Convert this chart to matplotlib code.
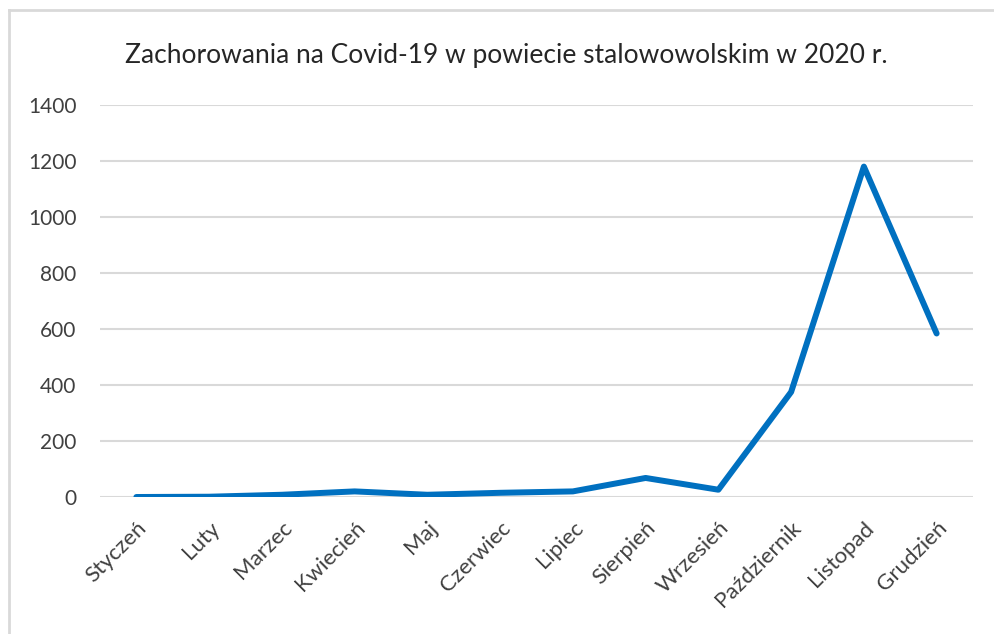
import matplotlib
matplotlib.use("Agg")
from matplotlib import pyplot as plt
from matplotlib.lines import Line2D

plt.rcParams['font.family'] = ['Lato', 'DejaVu Sans']

miesiace = ["Styczeń", "Luty", "Marzec", "Kwiecień", "Maj", "Czerwiec",
            "Lipiec", "Sierpień", "Wrzesień", "Październik", "Listopad", "Grudzień"]
zachorowania = [0, 1, 8, 20, 8, 15, 20, 68, 26, 375, 1180, 584]
y_ticks = [0, 200, 400, 600, 800, 1000, 1200, 1400]
tytul = "Zachorowania na Covid-19 w powiecie stalowowolskim w 2020 r."

W, H = 994, 634
fig = plt.figure(figsize=(W / 100, H / 100), dpi=100)
ax = fig.add_axes([100 / W, 1 - 497 / H, 873 / W, 392 / H])

x = list(range(len(miesiace)))
ax.plot(x, zachorowania, color="#0070C0", lw=4.3, solid_capstyle="round",
        solid_joinstyle="round", zorder=3)

ax.set_xlim(-0.5, len(miesiace) - 0.5)
ax.set_ylim(0, 1400)
ax.set_yticks(y_ticks)
ax.set_yticklabels([str(v) for v in y_ticks], fontsize=15, color="#404040")
ax.set_xticks(x)
ax.set_xticklabels(miesiace, fontsize=16, color="#404040", rotation=45,
                   ha="right", va="top", rotation_mode="anchor")
ax.tick_params(axis="both", length=0)
ax.tick_params(axis="y", pad=17)
ax.tick_params(axis="x", pad=15)
ax.grid(axis="y", color="#D9D9D9", lw=1.5)
ax.set_axisbelow(True)
for s in ax.spines.values():
    s.set_visible(False)

fig.text(506 / W, 1 - 55 / H, tytul, fontsize=19, color="#262626",
         ha="center", va="center")

# ramka wykresu (przycięta z prawej i od dołu)
fig.add_artist(Line2D([9 / W, 9 / W], [1 - 10 / H, 0], color="#D9D9D9", lw=2))
fig.add_artist(Line2D([9 / W, 1], [1 - 10 / H, 1 - 10 / H], color="#D9D9D9", lw=2))

fig.savefig("out.png", dpi=100)
